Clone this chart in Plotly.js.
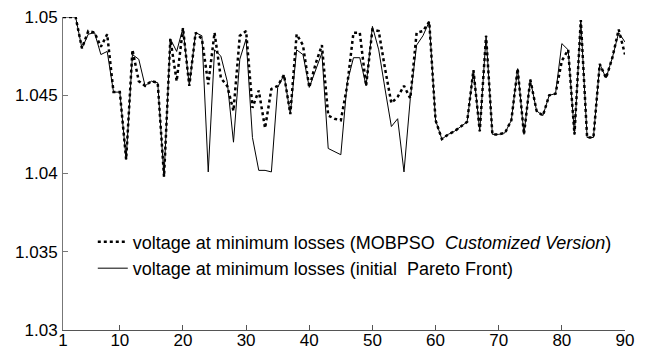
<!DOCTYPE html>
<html>
<head>
<meta charset="utf-8">
<script src="https://cdn.plot.ly/plotly-3.0.1.min.js"></script>
<style>html,body{margin:0;padding:0;background:#fff;}#chart{width:648px;height:350px;}</style>
</head>
<body>
<div id="chart"></div>
<script>
var busIndex = [1,2,3,4,5,6,7,8,9,10,11,12,13,14,15,16,17,18,19,20,
  21,22,23,24,25,26,27,28,29,30,31,32,33,34,35,36,37,38,39,40,
  41,42,43,44,45,46,47,48,49,50,51,52,53,54,55,56,57,58,59,60,
  61,62,63,64,65,66,67,68,69,70,71,72,73,74,75,76,77,78,79,80,
  81,82,83,84,85,86,87,88,89,90];

var voltageMOBPSO = [1.0500,1.0500,1.0500,1.0480,1.0491,1.0490,1.0481,1.0489,1.0452,1.0452,
  1.0409,1.0479,1.0459,1.0456,1.0459,1.0458,1.0398,1.0486,1.0459,1.0493,
  1.0456,1.0490,1.0486,1.0457,1.0490,1.0461,1.0456,1.0440,1.0488,1.0491,
  1.0442,1.0453,1.0429,1.0454,1.0456,1.0463,1.0438,1.0489,1.0482,1.0455,
  1.0470,1.0482,1.0437,1.0435,1.0434,1.0456,1.0490,1.0490,1.0456,1.0492,
  1.0491,1.0467,1.0445,1.0449,1.0456,1.0448,1.0490,1.0491,1.0497,1.0434,
  1.0422,1.0425,1.0427,1.0430,1.0433,1.0466,1.0427,1.0488,1.0425,1.0425,
  1.0426,1.0434,1.0467,1.0425,1.0460,1.0440,1.0437,1.0450,1.0451,1.0472,
  1.0479,1.0425,1.0498,1.0423,1.0423,1.0470,1.0461,1.0474,1.0492,1.0476];

var voltageInitial = [1.0500,1.0500,1.0500,1.0480,1.0489,1.0490,1.0476,1.0478,1.0452,1.0452,
  1.0409,1.0476,1.0473,1.0456,1.0459,1.0458,1.0398,1.0486,1.0478,1.0493,
  1.0456,1.0490,1.0488,1.0401,1.0479,1.0475,1.0459,1.0420,1.0473,1.0486,
  1.0423,1.0402,1.0402,1.0401,1.0455,1.0463,1.0438,1.0479,1.0476,1.0455,
  1.0466,1.0477,1.0416,1.0414,1.0412,1.0458,1.0474,1.0474,1.0456,1.0494,
  1.0479,1.0454,1.0430,1.0435,1.0401,1.0448,1.0482,1.0488,1.0497,1.0434,
  1.0422,1.0425,1.0427,1.0430,1.0433,1.0466,1.0427,1.0488,1.0425,1.0425,
  1.0426,1.0434,1.0467,1.0425,1.0460,1.0440,1.0437,1.0450,1.0451,1.0483,
  1.0479,1.0425,1.0498,1.0423,1.0423,1.0470,1.0461,1.0474,1.0490,1.0484];

var xTickVals = [1,10,20,30,40,50,60,70,80,90];
var xTickText = ['1','10','20','30','40','50','60','70','80','90'];
var yTickVals = [1.03,1.035,1.04,1.045,1.05];
var yTickText = ['1.03','1.035','1.04','1.045','1.05'];

var traces = [
  {x: busIndex, y: voltageMOBPSO, type: 'scatter', mode: 'lines',
   name: 'voltage at minimum losses (MOBPSO\u00a0 <i>Customized Version</i>)',
   line: {color: '#000', width: 2.5, dash: 'dot'}},
  {x: busIndex, y: voltageInitial, type: 'scatter', mode: 'lines',
   name: 'voltage at minimum losses (initial\u00a0 Pareto Front)',
   line: {color: '#000', width: 1}}
];

var layout = {
  width: 648, height: 350,
  margin: {l: 63, r: 23, t: 17, b: 20, pad: 0},
  paper_bgcolor: '#fff', plot_bgcolor: '#fff',
  font: {family: 'Liberation Sans, Arial, sans-serif', size: 17, color: '#000'},
  showlegend: true,
  legend: {x: 0.053, y: 0.34, xanchor: 'left', yanchor: 'top',
    bgcolor: 'rgba(0,0,0,0)', borderwidth: 0, itemwidth: 30,
    font: {size: 18, color: '#000'}, tracegroupgap: 0},
  xaxis: {range: [1, 90], tickvals: xTickVals, ticktext: xTickText,
    showgrid: false, zeroline: false, showline: true, linecolor: '#555', linewidth: 1,
    ticks: 'inside', ticklen: 5, tickcolor: '#555', mirror: false,
    ticklabelstandoff: -5, tickfont: {size: 17}},
  yaxis: {range: [1.03, 1.05], tickvals: yTickVals, ticktext: yTickText,
    showgrid: false, zeroline: false, showline: true, linecolor: '#777', linewidth: 1,
    ticks: 'inside', ticklen: 5, tickcolor: '#777', mirror: false,
    ticklabelstandoff: 1, tickfont: {size: 17}}
};

Plotly.newPlot('chart', traces, layout, {displayModeBar: false, staticPlot: true});
</script>
</body>
</html>
